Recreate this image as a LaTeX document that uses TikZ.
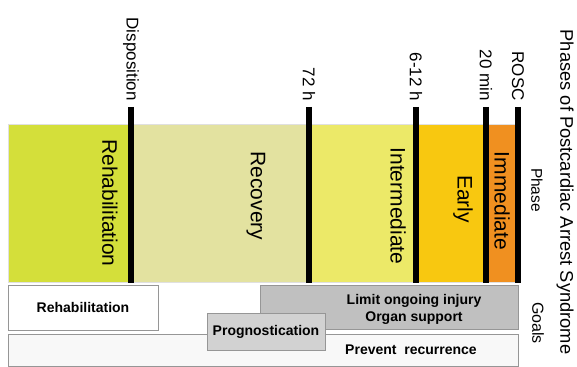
\documentclass[tikz,border=0pt]{standalone}
\usepackage{fontspec}
\setmainfont{Liberation Sans}
\definecolor{cRehab}{RGB}{212,223,58}
\definecolor{cRecov}{RGB}{227,226,160}
\definecolor{cInter}{RGB}{236,233,104}
\definecolor{cEarly}{RGB}{248,200,16}
\definecolor{cImm}{RGB}{240,144,32}
\definecolor{cLimit}{RGB}{192,192,192}
\definecolor{cProg}{RGB}{210,210,210}
\definecolor{cPrev}{RGB}{248,248,248}
\definecolor{cEdge}{RGB}{150,150,150}
\begin{document}
\begin{tikzpicture}[x=1pt,y=-1pt,
  band/.style={draw=black!12, line width=0.6pt},
  marker/.style={line width=6pt, black},
  tick/.style={rotate=-90, anchor=east, inner sep=0pt, font=\fontsize{17}{17}\selectfont},
  phasename/.style={rotate=-90, inner sep=0pt, font=\fontsize{21}{21}\selectfont},
  side/.style={rotate=-90, inner sep=0pt, font=\fontsize{15.5}{15.5}\selectfont},
  goalbox/.style={draw=cEdge, line width=0.8pt, inner sep=0pt, minimum width=#1},
  goaltext/.style={inner sep=0pt, font=\fontsize{14}{17}\selectfont\bfseries, align=center}]
\useasboundingbox (0,0) rectangle (577,366);
\fill[white] (0,0) rectangle (577,366);
% phase bands
\filldraw[band, fill=cRehab] (8,124) rectangle (131,282);
\filldraw[band, fill=cRecov] (131,124) rectangle (309,282);
\filldraw[band, fill=cInter] (309,124) rectangle (416,282);
\filldraw[band, fill=cEarly] (416,124) rectangle (486,282);
\filldraw[band, fill=cImm] (486,124) rectangle (518,282);
% phase names
\node[phasename] (pRehab) at (110,203) {Rehabilitation};
\node[phasename] (pRecov) at (256,196) {Recovery};
\node[phasename] (pInter) at (398,206) {Intermediate};
\node[phasename] (pEarly) at (463,199) {Early};
\node[phasename] (pImm) at (502,201) {Immediate};
% time markers
\draw[marker] (131,107) -- (131,283);
\draw[marker] (309,107) -- (309,283);
\draw[marker] (416,107) -- (416,283);
\draw[marker] (486,107) -- (486,283);
\draw[marker] (518,107) -- (518,283);
\node[tick] (tDisp) at (131,101) {Disposition};
\node[tick] (t72) at (309,101) {72 h};
\node[tick] (t612) at (416,101) {6-12 h};
\node[tick] (t20) at (486,101) {20 min};
\node[tick] (tRosc) at (518,101) {ROSC};
% goals
\node[goalbox=510pt, minimum height=32pt, fill=cPrev] (bPrev) at (263,350) {};
\node[goaltext] (gPrev) at (411,350) {Prevent\ \ recurrence};
\node[goalbox=258pt, minimum height=44pt, fill=cLimit] (bLimit) at (389,307) {};
\node[goaltext] (gLimit) at (414,309.5) {Limit ongoing injury\\Organ support};
\node[goalbox=150pt, minimum height=45pt, fill=white] (bRehab) at (83,307.5) {};
\node[goaltext] (gRehab) at (83,307) {Rehabilitation};
\node[goalbox=118pt, minimum height=37pt, fill=cProg] (bProg) at (266,331.5) {};
\node[goaltext] (gProg) at (266,331.5) {Prognostication};
% side labels
\node[side] (lPhase) at (537,190) {Phase};
\node[side, font=\fontsize{16}{16}\selectfont] (lGoals) at (538,323) {Goals};
\node[rotate=-90, inner sep=0pt, font=\fontsize{18.3}{18.3}\selectfont] (title) at (565,192) {Phases of Postcardiac Arrest Syndrome};
\end{tikzpicture}
\end{document}
